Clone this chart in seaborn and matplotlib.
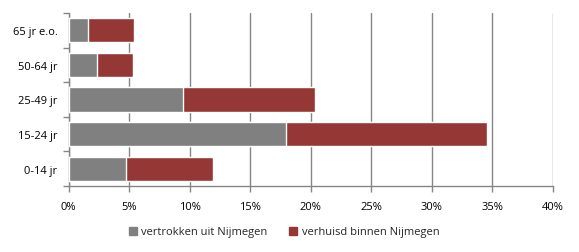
import matplotlib
matplotlib.use("Agg")
import matplotlib.pyplot as plt
import seaborn as sns
import pandas as pd
import numpy as np
from matplotlib.patches import Patch
from matplotlib.ticker import FixedLocator

categories = ["65 jr e.o.", "50-64 jr", "25-49 jr", "15-24 jr", "0-14 jr"]
vertrokken = [1.6, 2.35, 9.45, 17.95, 4.75]
verhuisd = [3.8, 2.95, 10.9, 16.65, 7.2]
xticks = [0, 5, 10, 15, 20, 25, 30, 35, 40]

gray = "#808080"
red = "#953735"
axis_gray = "#868686"

sns.set_theme(style="white")
plt.rcParams["font.family"] = ["Open Sans", "DejaVu Sans"]

df = pd.DataFrame({"cat": categories, "v1": vertrokken, "v2": verhuisd})
df["total"] = df["v1"] + df["v2"]

fig = plt.figure(figsize=(5.79, 2.53), dpi=100)
ax = fig.add_axes([68.5/579, (253-187)/253, (552.5-68.5)/579, (187-14)/253])

sns.barplot(data=df, y="cat", x="total", order=categories, color=red,
            saturation=1, width=0.7, ax=ax, orient="h", zorder=3)
sns.barplot(data=df, y="cat", x="v1", order=categories, color=gray,
            saturation=1, width=0.7, ax=ax, orient="h", zorder=3)

ax.set_xlim(0, 40)
ax.set_ylim(len(categories) - 0.5, -0.5)
ax.set_xticks(xticks)
ax.set_xticklabels([f"{t}%" for t in xticks], fontsize=8, color="black")
ax.set_xlabel("")
ax.set_ylabel("")
ax.xaxis.grid(True, color=axis_gray, linewidth=1.0, zorder=0)
ax.set_axisbelow(True)
ax.tick_params(axis="x", direction="out", length=4, width=1, color=axis_gray, pad=7, bottom=True)
ax.tick_params(axis="y", which="major", length=0, pad=8, labelsize=8)
ax.yaxis.set_minor_locator(FixedLocator(np.arange(-0.5, len(categories), 1.0)))
ax.tick_params(axis="y", which="minor", direction="out", length=4, width=1, color=axis_gray, left=True)
for lab in ax.get_yticklabels():
    lab.set_color("black")

for s in ["top", "right"]:
    ax.spines[s].set_visible(False)
for s in ["left", "bottom"]:
    ax.spines[s].set_color(axis_gray)
    ax.spines[s].set_linewidth(1.0)

handles = [Patch(color=gray, label="vertrokken uit Nijmegen"),
           Patch(color=red, label="verhuisd binnen Nijmegen")]
fig.legend(handles=handles, loc="center", bbox_to_anchor=(284/579, 1 - 233/253),
           ncol=2, frameon=False, fontsize=8, handlelength=0.7, handleheight=0.7,
           columnspacing=2.0, handletextpad=0.4)

fig.savefig("out.png", dpi=100)
